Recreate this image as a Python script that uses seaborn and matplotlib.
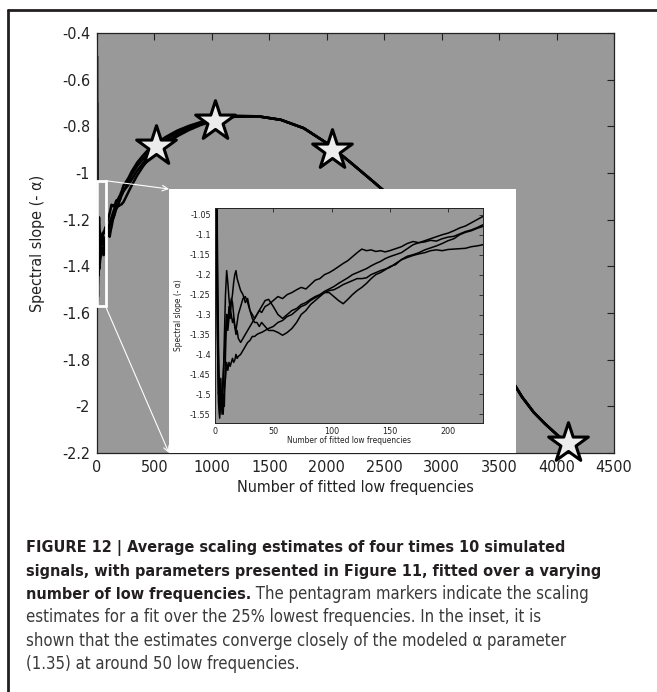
import pandas as pd
import seaborn as sns
import matplotlib.pyplot as plt
from matplotlib import font_manager as fm
from matplotlib.patches import Rectangle
from matplotlib.lines import Line2D
from matplotlib.ticker import FuncFormatter

# ---- data ----
# inset: first 230 fitted low frequencies, four simulated runs
inset_x = [1, 2, 3, 4, 5, 6, 7, 8, 9, 10, 11, 12, 13, 14, 15, 16, 17, 18, 19, 20,
           22, 24, 26, 28, 30, 32, 34, 36, 38, 40,
           43, 46,
           50, 54, 58, 62, 66, 70, 74, 78, 82, 86, 90, 94, 98, 102, 106, 110, 114, 118, 122, 126, 130, 134, 138, 142, 146, 150,
           155, 160, 165, 170, 175, 180, 185, 190, 195, 200, 205, 210, 215, 220, 225, 230]

run1_inset = [-0.50, -1.10, -1.38, -1.52, -1.46, -1.55, -1.50, -1.53, -1.40, -1.30, -1.33, -1.28, -1.31, -1.27, -1.25, -1.22, -1.20, -1.19, -1.21, -1.22,
              -1.24, -1.25, -1.27, -1.26, -1.29, -1.30, -1.31, -1.30, -1.29, -1.295,
              -1.28, -1.275,
              -1.265, -1.255, -1.26, -1.25, -1.245, -1.238, -1.232, -1.236, -1.225, -1.214, -1.21, -1.20, -1.195, -1.188, -1.18, -1.172, -1.165, -1.155, -1.145, -1.136, -1.14, -1.138, -1.142, -1.14, -1.143, -1.14,
              -1.135, -1.13, -1.122, -1.117, -1.12, -1.118, -1.114, -1.116, -1.11, -1.106, -1.104, -1.098, -1.092, -1.088, -1.082, -1.075]

run2_inset = [-0.85, -1.20, -1.45, -1.55, -1.50, -1.53, -1.48, -1.36, -1.25, -1.19, -1.22, -1.26, -1.29, -1.30, -1.32, -1.31, -1.33, -1.35, -1.34, -1.36,
              -1.37, -1.36, -1.35, -1.34, -1.33, -1.32, -1.31, -1.30, -1.29, -1.28,
              -1.265, -1.262,
              -1.28, -1.30, -1.31, -1.30, -1.29, -1.285, -1.275, -1.27, -1.262, -1.255, -1.25, -1.242, -1.236, -1.23, -1.222, -1.215, -1.208, -1.20, -1.195, -1.19, -1.185, -1.178, -1.172, -1.167, -1.16, -1.155,
              -1.15, -1.145, -1.135, -1.125, -1.12, -1.115, -1.11, -1.105, -1.10, -1.096, -1.09, -1.083, -1.078, -1.07, -1.062, -1.054]

run3_inset = [-0.70, -1.30, -1.50, -1.47, -1.54, -1.51, -1.45, -1.40, -1.35, -1.30, -1.34, -1.31, -1.28, -1.26, -1.27, -1.30, -1.33, -1.34, -1.32, -1.30,
              -1.28, -1.26, -1.255, -1.27, -1.29, -1.31, -1.32, -1.32, -1.33, -1.32,
              -1.33, -1.34,
              -1.34, -1.345, -1.352, -1.345, -1.335, -1.32, -1.30, -1.29, -1.275, -1.265, -1.255, -1.245, -1.245, -1.255, -1.265, -1.273, -1.262, -1.25, -1.24, -1.232, -1.222, -1.21, -1.20, -1.195, -1.188, -1.18,
              -1.175, -1.162, -1.154, -1.15, -1.145, -1.138, -1.133, -1.128, -1.122, -1.115, -1.11, -1.10, -1.094, -1.09, -1.084, -1.079]

run4_inset = [-1.10, -1.35, -1.52, -1.56, -1.50, -1.52, -1.55, -1.49, -1.46, -1.42, -1.44, -1.42, -1.43, -1.42, -1.41, -1.42, -1.414, -1.40, -1.41, -1.405,
              -1.40, -1.39, -1.38, -1.37, -1.365, -1.355, -1.355, -1.35, -1.347, -1.345,
              -1.34, -1.335,
              -1.33, -1.32, -1.315, -1.305, -1.30, -1.29, -1.28, -1.275, -1.265, -1.258, -1.252, -1.245, -1.24, -1.238, -1.232, -1.225, -1.22, -1.215, -1.21, -1.21, -1.208, -1.20, -1.195, -1.19, -1.186, -1.182,
              -1.172, -1.163, -1.157, -1.152, -1.148, -1.145, -1.14, -1.138, -1.14, -1.137, -1.136, -1.135, -1.134, -1.13, -1.128, -1.125]

# main plot beyond the inset range (runs still apart up to ~1200)
head_x = [250, 275, 300, 350, 400, 450, 500, 600, 700, 800, 900, 1000, 1100, 1200]
run1_head = [-1.06, -1.035, -1.01, -0.97, -0.94, -0.91, -0.888, -0.855, -0.826, -0.805, -0.787, -0.773, -0.762, -0.756]
run2_head = [-1.04, -1.02, -0.995, -0.955, -0.925, -0.898, -0.878, -0.845, -0.818, -0.798, -0.782, -0.769, -0.76, -0.755]
run3_head = [-1.065, -1.05, -1.03, -0.99, -0.958, -0.928, -0.903, -0.868, -0.836, -0.812, -0.792, -0.777, -0.765, -0.758]
run4_head = [-1.105, -1.08, -1.055, -1.01, -0.972, -0.94, -0.912, -0.875, -0.842, -0.816, -0.795, -0.779, -0.767, -0.759]

# runs overlap from here on
tail_x = [1400, 1600, 1800, 2000, 2200, 2400, 2600, 2800, 3000, 3200, 3400, 3600, 3700, 3800, 3900, 4000, 4096, 4160]
tail_y = [-0.757, -0.772, -0.808, -0.872, -0.952, -1.035, -1.12, -1.215, -1.325, -1.455, -1.64, -1.88, -1.96, -2.025, -2.075, -2.12, -2.16, -2.215]

# pentagram markers: fit over the 25% lowest frequencies
star_x = [512, 1024, 2048, 4096]
star_y = [-0.885, -0.778, -0.90, -2.157]

main_xticks = [0, 500, 1000, 1500, 2000, 2500, 3000, 3500, 4000, 4500]
main_yticks = [-2.2, -2, -1.8, -1.6, -1.4, -1.2, -1, -0.8, -0.6, -0.4]
inset_xticks = [0, 50, 100, 150, 200]
inset_yticks = [-1.55, -1.5, -1.45, -1.4, -1.35, -1.3, -1.25, -1.2, -1.15, -1.1, -1.05]

runs_inset = [run1_inset, run2_inset, run3_inset, run4_inset]
runs_head = [run1_head, run2_head, run3_head, run4_head]

rows = []
rows_inset = []
for i in range(4):
    for x, y in zip(inset_x, runs_inset[i]):
        rows.append((i, x, y))
        rows_inset.append((i, x, y))
    for x, y in zip(head_x, runs_head[i]):
        rows.append((i, x, y))
    for x, y in zip(tail_x, tail_y):
        rows.append((i, x, y))
df = pd.DataFrame(rows, columns=['run', 'n', 'slope'])
df_inset = pd.DataFrame(rows_inset, columns=['run', 'n', 'slope'])
df_stars = pd.DataFrame({'n': star_x, 'slope': star_y})

# ---- style ----
sns.set_style("white")
# prefer a condensed face (the original uses a narrow Helvetica)
cond_path = fm.findfont(fm.FontProperties(family='DejaVu Sans', stretch='condensed'))
if 'Condensed' in cond_path:
    plt.rcParams['font.family'] = ['DejaVu Sans']
    plt.rcParams['font.stretch'] = 'condensed'
else:
    plt.rcParams['font.family'] = ['Liberation Sans', 'DejaVu Sans']

gray = '#999999'
ink = '#222222'
fmt = FuncFormatter(lambda v, p: '%g' % v)

W, H = 657, 692
fig = plt.figure(figsize=(W / 100, H / 100), dpi=100)


def fx(px):
    return px / W


def fy(py):
    return (H - py) / H


# main axes
ax = fig.add_axes([fx(97), fy(453), fx(614) - fx(97), fy(33) - fy(453)])
ax.set_facecolor(gray)
sns.lineplot(data=df, x='n', y='slope', units='run', estimator=None, sort=False,
             color='black', lw=1.8, ax=ax, zorder=2)
sns.scatterplot(data=df_stars, x='n', y='slope', marker='*', s=900, color='#ececec',
                edgecolor='black', linewidth=2.2, ax=ax, zorder=6, clip_on=False)
ax.set_xlim(0, 4500)
ax.set_ylim(-2.2, -0.4)
ax.set_xticks(main_xticks)
ax.set_yticks(main_yticks)
ax.xaxis.set_major_formatter(fmt)
ax.yaxis.set_major_formatter(fmt)
ax.tick_params(direction='in', length=5, width=0.8, top=True, right=True,
               labelsize=11.5, pad=5, colors=ink)
for s in ax.spines.values():
    s.set_color(ink)
    s.set_linewidth(0.9)
ax.set_xlabel('Number of fitted low frequencies', fontsize=11.5, color=ink)
ax.set_ylabel('Spectral slope (- α)', fontsize=11.5, color=ink)
ax.xaxis.set_label_coords(0.5, -0.064)
ax.yaxis.set_label_coords(-0.1, 0.5)

# inset ranges
in_xlim = (0, 230)
in_ylim = (-1.572, -1.033)

# zoom rectangle and white backing box of the inset
ax.add_patch(Rectangle((0, in_ylim[0]), 75, in_ylim[1] - in_ylim[0], fill=False,
                       edgecolor='white', lw=2, zorder=5, clip_on=False))
box_x0 = (169 - 97) / 517 * 4500
box_x1 = (516 - 97) / 517 * 4500
box_top = -0.4 - (189 - 33) / 420 * 1.8
ax.add_patch(Rectangle((box_x0, -2.2), box_x1 - box_x0, box_top + 2.2,
                       facecolor='white', edgecolor='none', zorder=4))
arrow = dict(arrowstyle='->', color='white', lw=0.8, shrinkA=0, shrinkB=0)
ax.annotate('', xy=(box_x0, box_top), xytext=(75, in_ylim[1]), arrowprops=arrow,
            annotation_clip=False, zorder=7)
ax.annotate('', xy=(box_x0, -2.2), xytext=(75, in_ylim[0]), arrowprops=arrow,
            annotation_clip=False, zorder=7)

# inset axes
axi = fig.add_axes([fx(215), fy(423), fx(483) - fx(215), fy(208) - fy(423)])
axi.set_zorder(3)
axi.set_facecolor(gray)
sns.lineplot(data=df_inset, x='n', y='slope', units='run', estimator=None, sort=False,
             color='black', lw=1.1, ax=axi)
axi.set_xlim(*in_xlim)
axi.set_ylim(*in_ylim)
axi.set_xticks(inset_xticks)
axi.set_yticks(inset_yticks)
axi.xaxis.set_major_formatter(fmt)
axi.yaxis.set_major_formatter(fmt)
axi.tick_params(direction='in', length=3, width=0.6, top=True, right=True,
                labelsize=6.5, pad=3, colors=ink)
for s in axi.spines.values():
    s.set_color(ink)
    s.set_linewidth(0.7)
axi.set_xlabel('Number of fitted low frequencies', fontsize=6, color=ink)
axi.set_ylabel('Spectral slope (- α)', fontsize=6, color=ink)
axi.xaxis.set_label_coords(0.5, -0.06)
axi.yaxis.set_label_coords(-0.12, 0.5)

# frame lines of the page crop
fig.add_artist(Line2D([fx(8), fx(8)], [0, fy(10)], transform=fig.transFigure, color='#231f20', lw=2))
fig.add_artist(Line2D([fx(8), 1], [fy(10), fy(10)], transform=fig.transFigure, color='#231f20', lw=2))

# caption, sizes fitted so lines span the same widths as in the original
bold_c = '#231f20'
norm_c = '#3a3a3a'
x0 = fx(26)
renderer = fig.canvas.get_renderer()
t1 = fig.text(x0, fy(552), 'FIGURE 12 | Average scaling estimates of four times 10 simulated',
              fontsize=13, fontweight='bold', color=bold_c, va='baseline')
w1 = t1.get_window_extent(renderer=renderer).width
bold_size = 13 * 539 / w1
t1.set_fontsize(bold_size)

t4 = fig.text(x0, fy(622), 'estimates for a fit over the 25% lowest frequencies. In the inset, it is',
              fontsize=13, color=norm_c, va='baseline')
w4 = t4.get_window_extent(renderer=renderer).width
norm_size = 13 * 515 / w4
t4.set_fontsize(norm_size)

fig.text(x0, fy(576), 'signals, with parameters presented in Figure 11, fitted over a varying',
         fontsize=bold_size, fontweight='bold', color=bold_c, va='baseline')
t3 = fig.text(x0, fy(599), 'number of low frequencies.',
              fontsize=bold_size, fontweight='bold', color=bold_c, va='baseline')
bb = t3.get_window_extent(renderer=renderer)
fig.text(bb.x1 / W, fy(599), ' The pentagram markers indicate the scaling',
         fontsize=norm_size, color=norm_c, va='baseline')
fig.text(x0, fy(646), 'shown that the estimates converge closely of the modeled α parameter',
         fontsize=norm_size, color=norm_c, va='baseline')
fig.text(x0, fy(669), '(1.35) at around 50 low frequencies.',
         fontsize=norm_size, color=norm_c, va='baseline')

fig.savefig('out.png', dpi=100)
